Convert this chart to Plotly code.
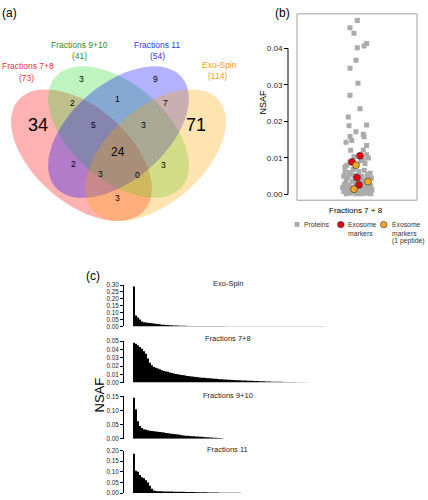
import math
import plotly.graph_objects as go

W, H = 428, 500
FONT = "Liberation Sans, Arial, Helvetica, sans-serif"

# ---------------- data ----------------
venn_sets = ["Fractions 7+8", "Fractions 9+10", "Fractions 11", "Exo-Spin"]
venn_totals = [73, 41, 54, 114]
venn_colors_text = ["#E8303A", "#2E8B2E", "#3333E0", "#F59A2A"]
venn_fill = ["rgba(255,0,0,0.30)", "rgba(60,220,60,0.33)", "rgba(0,0,255,0.30)", "rgba(255,165,0,0.30)"]
# region counts
venn_counts = [34, 3, 9, 71, 2, 1, 7, 5, 3, 24, 2, 3, 0, 3, 3]

# panel (b): jittered x and NSAF values
protein_x = [0.005, -0.117, -0.05, 0.005, 0.117, 0.16, -0.017, -0.117, 0.017, -0.117,
             0.05, -0.145, -0.133, 0.16, -0.017, -0.117, 0.105, 0.117, -0.183, -0.088,
             0.16, -0.105, 0.105, -0.05, 0.16, 0.19, -0.17, -0.117, 0.105, 0.133,
             -0.06, -0.2, 0.06,
             -0.20, -0.12, 0.03, 0.12, 0.22, -0.22, -0.15, -0.05, 0.08, 0.17, 0.24,
             -0.18, -0.08, 0.02, 0.10, 0.20, -0.21, -0.13, -0.03, 0.05, 0.14, 0.23,
             -0.17, -0.09, 0.00, 0.09, 0.18, 0.25, -0.22, -0.14, -0.05, 0.04, 0.12, 0.21,
             -0.18, -0.10, -0.01, 0.07, 0.15, 0.23, -0.11, 0.16, -0.24, 0.06, -0.02, 0.18,
             -0.10, 0.00]
protein_nsaf = [0.0477, 0.0457, 0.0442, 0.0402, 0.0407, 0.0414, 0.0368, 0.0346, 0.0305, 0.0272,
                0.0235, 0.0212, 0.0188, 0.0190, 0.0172, 0.0159, 0.0165, 0.0158, 0.0143, 0.0148,
                0.0134, 0.0121, 0.0122, 0.0103, 0.0109, 0.0100, 0.0080, 0.0089, 0.0094, 0.0085,
                0.0068, 0.0075, 0.0092,
                0.0062, 0.0060, 0.0063, 0.0066, 0.0058, 0.0050, 0.0047, 0.0052, 0.0050, 0.0049, 0.0045,
                0.0038, 0.0036, 0.0040, 0.0038, 0.0040, 0.0028, 0.0025, 0.0030, 0.0027, 0.0029, 0.0024,
                0.0016, 0.0018, 0.0014, 0.0017, 0.0015, 0.0012, 0.0008, 0.0006, 0.0007, 0.0005, 0.0008, 0.0006,
                0.0002, 0.0003, 0.0002, 0.0002, 0.0003, 0.0002, 0.0011, 0.0021, 0.0019, 0.0034, 0.0046, 0.0055,
                0.0055, 0.0022]
marker_x = [0.05, -0.083, 0.0, 0.033]
marker_nsaf = [0.0106, 0.0089, 0.0046, 0.0026]
marker1_x = [-0.017, 0.183, -0.05]
marker1_nsaf = [0.0080, 0.0035, 0.0014]

# panel (c): sorted NSAF per sample
exo_spin = [0.290, 0.080, 0.065, 0.050, 0.035, 0.031, 0.029, 0.027, 0.025, 0.023,
            0.021, 0.019, 0.017, 0.015, 0.013, 0.012, 0.011, 0.010, 0.009, 0.008,
            0.0072, 0.0065, 0.0058, 0.0052, 0.0047, 0.0043, 0.0040, 0.0038, 0.0036, 0.0035,
            0.0034, 0.0033, 0.0032, 0.0031, 0.0030, 0.0029, 0.0028, 0.0027, 0.0026, 0.0025,
            0.0024, 0.0024, 0.0023, 0.0023, 0.0022, 0.0022, 0.0021, 0.0021, 0.0020, 0.0020,
            0.0019, 0.0019, 0.0018, 0.0018, 0.0017, 0.0017, 0.0016, 0.0016, 0.0015, 0.0015,
            0.0014, 0.0014, 0.0014, 0.0013, 0.0013, 0.0013, 0.0012, 0.0012, 0.0012, 0.0011,
            0.0011, 0.0011, 0.0010, 0.0010, 0.0010, 0.0010, 0.0009, 0.0009, 0.0009, 0.0009,
            0.0008, 0.0008, 0.0008, 0.0008, 0.0007, 0.0007, 0.0007, 0.0007, 0.0007, 0.0006,
            0.0006, 0.0006, 0.0006, 0.0006, 0.0005, 0.0005]
frac78 = [0.048, 0.047, 0.045, 0.043, 0.041, 0.038, 0.035, 0.029, 0.024, 0.021,
          0.019, 0.018, 0.017, 0.016, 0.015, 0.014, 0.0135, 0.013, 0.0122, 0.0115,
          0.011, 0.0105, 0.0100, 0.0096, 0.0092, 0.0088, 0.0084, 0.0081, 0.0078, 0.0075,
          0.0072, 0.0069, 0.0066, 0.0063, 0.0060, 0.0058, 0.0056, 0.0054, 0.0052, 0.0050,
          0.0048, 0.0046, 0.0044, 0.0042, 0.0040, 0.0038, 0.0037, 0.0035, 0.0034, 0.0032,
          0.0031, 0.0030, 0.0029, 0.0028, 0.0027, 0.0026, 0.0025, 0.0024, 0.0023, 0.0022,
          0.0021, 0.0020, 0.0019, 0.0018, 0.0017, 0.0016, 0.0015, 0.0014, 0.0013, 0.0012,
          0.0012, 0.0011, 0.0011, 0.0010, 0.0010, 0.0009, 0.0009, 0.0008, 0.0008, 0.0007,
          0.0007, 0.0006, 0.0006, 0.0005, 0.0005, 0.0004, 0.0004]
frac910 = [0.145, 0.105, 0.062, 0.045, 0.038, 0.034, 0.032, 0.030, 0.029, 0.028,
           0.027, 0.026, 0.025, 0.024, 0.023, 0.022, 0.021, 0.020, 0.019, 0.018,
           0.017, 0.016, 0.015, 0.014, 0.013, 0.012, 0.011, 0.0105, 0.010, 0.0095,
           0.009, 0.0085, 0.008, 0.0075, 0.007, 0.0065, 0.006, 0.0055, 0.005, 0.0045,
           0.004, 0.0035, 0.003, 0.0025, 0.002]
frac11 = [0.185, 0.105, 0.100, 0.085, 0.075, 0.070, 0.060, 0.050, 0.035, 0.020,
          0.012, 0.010, 0.009, 0.0085, 0.008, 0.0078, 0.0075, 0.0072, 0.0070, 0.0068,
          0.0066, 0.0064, 0.0062, 0.0060, 0.0058, 0.0056, 0.0054, 0.0052, 0.0050, 0.0048,
          0.0046, 0.0044, 0.0042, 0.0040, 0.0038, 0.0036, 0.0034, 0.0032, 0.0030, 0.0028,
          0.0026, 0.0024, 0.0022, 0.0020, 0.0019, 0.0018, 0.0017, 0.0016, 0.0015, 0.0014,
          0.0013, 0.0012, 0.0011, 0.0010]
bar_titles = ["Exo-Spin", "Fractions 7+8", "Fractions 9+10", "Fractions 11"]
bar_series = [exo_spin, frac78, frac910, frac11]
bar_ticks = [[0, 0.05, 0.10, 0.15, 0.20, 0.25, 0.30],
             [0, 0.01, 0.02, 0.03, 0.04, 0.05],
             [0, 0.05, 0.10, 0.15],
             [0, 0.05, 0.10, 0.15, 0.20]]

# ---------------- layout helpers ----------------
def px(x):
    return x / W


def py(y):
    return 1 - y / H


fig = go.Figure()
shapes = []
annotations = []


def text(t, x, y, size, color="black", xanchor="center", yanchor="middle", angle=0):
    annotations.append(dict(text=t, x=px(x), y=py(y), xref="paper", yref="paper",
                            showarrow=False, xanchor=xanchor, yanchor=yanchor,
                            textangle=angle, font=dict(family=FONT, size=size, color=color)))


# ---------------- panel (a): Venn ----------------
SX, SY = 247.0, 234.0


def vx(u):
    return 118.5 + (u - 0.5) * SX


def vy(v):
    return 220 - (v - 0.185) * SY


ell_params = [(0.35, 0.47, -45), (0.50, 0.57, -45), (0.50, 0.57, 45), (0.65, 0.47, 45)]
A, B = 0.35, 0.20
for (cx, cy, rot), fill in zip(ell_params, venn_fill):
    r = math.radians(rot)
    pts = []
    for k in range(0, 73):
        t = 2 * math.pi * k / 72
        u = cx + A * math.cos(t) * math.cos(r) - B * math.sin(t) * math.sin(r)
        v = cy + A * math.cos(t) * math.sin(r) + B * math.sin(t) * math.cos(r)
        pts.append((px(vx(u)), py(vy(v))))
    path = "M " + " L ".join(f"{a:.5f},{b:.5f}" for a, b in pts) + " Z"
    shapes.append(dict(type="path", path=path, xref="paper", yref="paper",
                       fillcolor=fill, line=dict(width=0), layer="below"))

region_pos = [(38, 123, 18), (81, 76, 8.5), (155, 76, 8.5), (196, 123, 18), (72, 100, 8.5),
              (118, 96, 8.5), (165, 100, 8.5), (93, 123, 8.5), (143, 123, 8.5), (118, 150, 12),
              (73, 162, 8.5), (100, 172, 8.5), (137, 173, 8.5), (163, 163, 8.5), (118, 197, 8.5)]
for c, (x, y, s) in zip(venn_counts, region_pos):
    text(str(c), x, y, s)

label_pos = [(28, 63, 27, 75), (79, 42, 79, 53), (157, 42, 157, 53), (219, 62, 217, 73)]
for name, tot, col, (x1, y1, x2, y2) in zip(venn_sets, venn_totals, venn_colors_text, label_pos):
    text(name, x1, y1, 8.5, col)
    text(f"({tot})", x2, y2, 8.5, col)

text("(a)", 9, 9, 12)
text("(b)", 282, 9, 12)
text("(c)", 93, 276, 12)

# ---------------- panel (b): scatter ----------------
fig.add_trace(go.Scatter(x=protein_x, y=protein_nsaf, mode="markers", xaxis="x2", yaxis="y2",
                         marker=dict(symbol="square", size=5, color="#ABABAB"), showlegend=False))
fig.add_trace(go.Scatter(x=marker_x, y=marker_nsaf, mode="markers", xaxis="x2", yaxis="y2",
                         marker=dict(symbol="circle", size=7, color="#E8000B",
                                     line=dict(color="#333333", width=0.6)), showlegend=False))
fig.add_trace(go.Scatter(x=marker1_x, y=marker1_nsaf, mode="markers", xaxis="x2", yaxis="y2",
                         marker=dict(symbol="circle", size=7, color="#F5A623",
                                     line=dict(color="#333333", width=0.6)), showlegend=False))

shapes.append(dict(type="rect", xref="x2 domain", yref="y2 domain", x0=0, x1=1, y0=0, y1=1,
                   line=dict(color="#9E9E9E", width=1), fillcolor="rgba(0,0,0,0)"))
shapes.append(dict(type="line", xref="paper", yref="y2", x0=px(288), x1=px(288), y0=0, y1=0.04,
                   line=dict(color="black", width=1)))
text("NSAF", 263, 100, 9, angle=-90)
text("Fractions 7 + 8", 356, 209, 8)

# legend
shapes.append(dict(type="rect", xref="paper", yref="paper", x0=px(294.5), x1=px(299.5),
                   y0=py(226), y1=py(221), fillcolor="#ABABAB", line=dict(width=0)))
shapes.append(dict(type="circle", xref="paper", yref="paper", x0=px(337.5), x1=px(344),
                   y0=py(227), y1=py(220.5), fillcolor="#E8000B", line=dict(color="#333333", width=0.6)))
shapes.append(dict(type="circle", xref="paper", yref="paper", x0=px(380.5), x1=px(387),
                   y0=py(227), y1=py(220.5), fillcolor="#F5A623", line=dict(color="#333333", width=0.6)))
LF = 6.8
text("Proteins", 302, 224, LF, "#333333", xanchor="left")
text("Exosome", 346, 224, LF, "#333333", xanchor="left")
text("markers", 346, 232.3, LF, "#333333", xanchor="left")
text("Exosome", 389.5, 224, LF, "#333333", xanchor="left")
text("markers", 389.5, 232.3, LF, "#333333", xanchor="left")
text("(1 peptide)", 389.5, 240.7, LF, "#333333", xanchor="left")

# ---------------- panel (c): sorted NSAF (drawn as a stepped filled profile) ----------------
bar_doms = [(327, 285), (384, 342), (441, 398), (496, 453)]
title_y = [283, 339, 397, 452]
layout_axes = {}
for i, (name, vals, ticks, (yb, yt), ty) in enumerate(zip(bar_titles, bar_series, bar_ticks, bar_doms, title_y)):
    n = i + 3
    xs = [k + 0.5 for k in range(len(vals))] + [len(vals) + 0.5]
    ys = list(vals) + [vals[-1]]
    fig.add_trace(go.Scatter(x=xs, y=ys, xaxis=f"x{n}", yaxis=f"y{n}", mode="lines",
                             line=dict(shape="hv", width=0, color="black"),
                             fill="tozeroy", fillcolor="black", showlegend=False))
    layout_axes[f"xaxis{n}"] = dict(domain=[px(124), px(334)], range=[-4, 101], anchor=f"y{n}",
                                    visible=False, fixedrange=True)
    layout_axes[f"yaxis{n}"] = dict(domain=[py(yb), py(yt)], range=[0, ticks[-1]], anchor=f"x{n}",
                                    showline=True, linecolor="black", linewidth=1,
                                    ticks="outside", ticklen=3, tickcolor="black", tickwidth=1,
                                    tickvals=ticks, ticktext=[f"{t:.2f}" for t in ticks],
                                    tickfont=dict(family=FONT, size=6.3, color="#222222"),
                                    showgrid=False, zeroline=False)
    text(name, 228, ty, 7.5, "#222222")
text("NSAF", 99, 397, 13, angle=-90)

fig.update_layout(
    width=W, height=H, autosize=False,
    margin=dict(l=0, r=0, t=0, b=0),
    paper_bgcolor="white", plot_bgcolor="rgba(0,0,0,0)",
    showlegend=False,
    xaxis=dict(visible=False, domain=[0, 0.01]),
    yaxis=dict(visible=False, domain=[0, 0.01]),
    xaxis2=dict(domain=[px(297), px(417)], range=[-1, 1], anchor="y2", showgrid=False,
                zeroline=False, showticklabels=False, ticks="", fixedrange=True),
    yaxis2=dict(domain=[py(199), py(10)], range=[-0.0016, 0.0495], anchor="free", position=px(288),
                tickvals=[0, 0.01, 0.02, 0.03, 0.04],
                ticktext=["0.00", "0.01", "0.02", "0.03", "0.04"],
                ticks="outside", ticklen=4, tickcolor="black", tickwidth=1,
                tickfont=dict(family=FONT, size=8, color="#222222"),
                showgrid=False, zeroline=False, showline=False),
    shapes=shapes, annotations=annotations,
    **layout_axes,
)

fig.write_html("out.html", config={"displayModeBar": False},
               post_script="document.body.style.margin='0';document.body.style.overflow='hidden';")
